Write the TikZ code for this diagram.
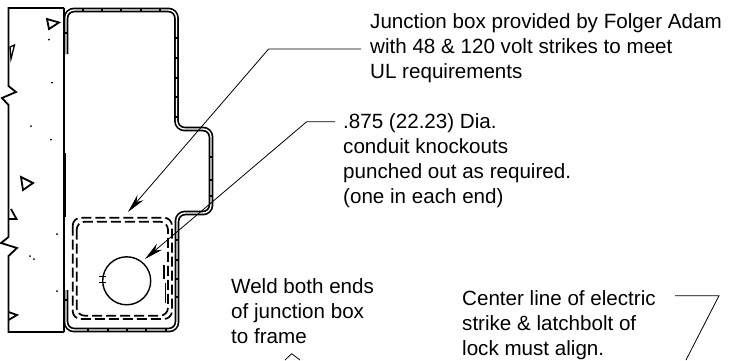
\documentclass[tikz,border=0pt]{standalone}
\usepackage{fontspec}
\setmainfont{Liberation Sans}
\usetikzlibrary{arrows.meta}
\newcommand{\txtlines}[1]{\begin{tabular}[t]{@{}l@{}}#1\end{tabular}}
\tikzset{
 wall/.style={line width=1.8pt,line join=miter},
 metalouter/.style={line width=4.8pt,rounded corners=8pt,line cap=butt},
 metalinner/.style={line width=1.4pt,white,rounded corners=8pt,line cap=butt},
 tick/.style={line width=1.3pt},
 dash1/.style={line width=1.7pt,dash pattern=on 10pt off 4pt,rounded corners=8pt},
 leader/.style={line width=0.8pt},
 tipped/.style={leader,-{Stealth[length=19pt,width=8pt,inset=6pt]}},
 lbl/.style={anchor=base west,inner sep=0pt,font=\fontsize{20.6}{25}\selectfont},
}
\begin{document}
\begin{tikzpicture}[x=1pt,y=-1pt]
\useasboundingbox (0,0) rectangle (740,360);
% wall
\draw[wall] (64,8) -- (8.5,8) -- (8.5,86) -- (16,92) -- (2,98) -- (8.5,105) -- (8.5,237) -- (1,243) -- (17,248) -- (8.5,256) -- (8.5,332) -- (64,332);
\draw[wall] (64,8) -- (64,332);
\draw[wall] (47,19) -- (59,22.5) -- (49,29) -- cycle;
\draw[wall,line width=1.3pt] (10,47) -- (14.5,45) -- (11,59) -- cycle;
\draw[wall] (21,177) -- (33,183) -- (23,190) -- cycle;
\draw[wall] (8.5,219) -- (16.5,219) -- (11,209);
\draw[wall] (8.5,312) -- (17,315) -- (8.5,320);
\foreach \p in {(49,39.5),(52,82.5),(31,126),(51,139.5),(57,234),(30,256),(34,259),(57,291)}
  \fill \p circle (1);
% sheet metal
\def\metal{(66,54) -- (66,10) -- (176.5,10) -- (176.5,129) -- (211,129) -- (211,213) -- (177,213) -- (177,330) -- (66,330) -- (66,290)}
\draw[metalouter] \metal;
\draw[metalinner] \metal;
\draw[line width=1.8pt] (65.5,153) -- (65.5,217);
\foreach \x in {83,102,121,141,160} \draw[tick] (\x,8) -- (\x,12);
\foreach \y in {38,58,78,97,117} \draw[tick] (174.5,\y) -- (178.5,\y);
\foreach \y in {157,180,196} \draw[tick] (209,\y) -- (213,\y);
\foreach \y in {240,260,279,297} \draw[tick] (175,\y) -- (179,\y);
\foreach \x in {88,108,127,146,166} \draw[tick] (\x,328) -- (\x,332);
\draw[tick] (64,33) -- (68,33);
\draw[tick] (64,300) -- (68,300);
% dashed box
\draw[dash1] (72.7,217.7) rectangle (172,319);
\draw[dash1] (76.7,221.7) rectangle (168,315.7);
\draw[line width=1.7pt] (164,265) -- (164,279);
\draw[line width=1.7pt] (165.5,283) -- (165.5,303);
% knockout
\node[circle,draw,line width=1.4pt,minimum size=48pt,inner sep=0pt] (ko) at (126.7,280.8) {};
\draw[line width=1.4pt] (99,276.7) -- (106,276.7);
\draw[line width=1.4pt] (99,282.7) -- (106,282.7);
% labels
\node[lbl] (t1) at (370,28) {\txtlines{Junction box provided by Folger Adam\\with 48 \& 120 volt strikes to meet\\UL requirements}};
\node[lbl] (t2) at (343,128) {\txtlines{.875 (22.23) Dia.\\conduit knockouts\\punched out as required.\\(one in each end)}};
\node[lbl] (t3) at (231,293) {\txtlines{Weld both ends\\of junction box\\to frame}};
\node[lbl] (t4) at (462,305) {\txtlines{Center line of electric\\strike \& latchbolt of\\lock must align.}};
% leaders
\coordinate (a1) at (128,212);
\coordinate (a2) at (145,259);
\draw[tipped] (361,49) -- (268.6,49) -- (a1);
\draw[tipped] (335,121.7) -- (306.7,121.7) -- (a2);
\draw[leader] (285,360) -- (291.7,353.7) -- (300,360);
\draw[leader] (675,295.7) -- (719,295.7) -- (686,360);
\end{tikzpicture}
\end{document}
